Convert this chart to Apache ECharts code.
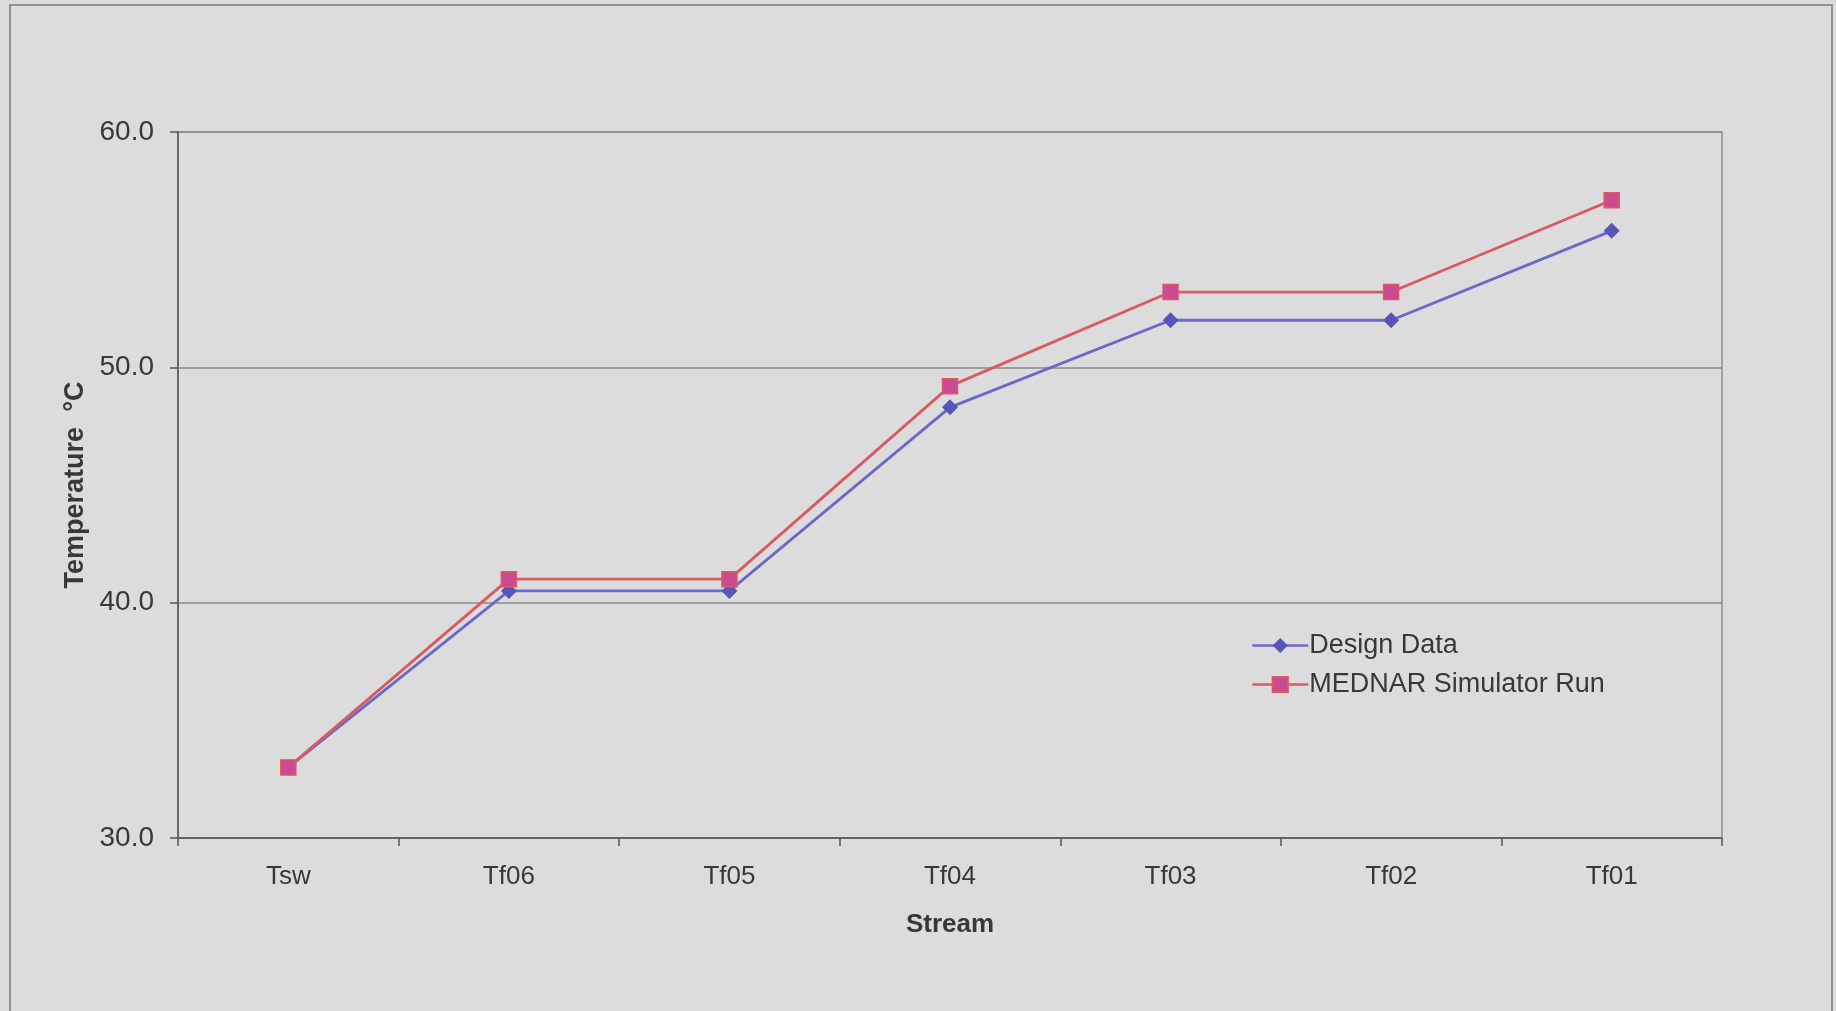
<!DOCTYPE html>
<html>
<head>
<meta charset="utf-8">
<title>Stream temperatures</title>
<script src="https://cdn.jsdelivr.net/npm/echarts@6/dist/echarts.min.js"></script>
<style>
  html, body { margin: 0; padding: 0; background: #dcdcdc; }
  #chart { width: 1836px; height: 1011px; }
</style>
</head>
<body>
<div id="chart"></div>
<script>
// Stream positions along the plant, cold end first
const streams = ['Tsw', 'Tf06', 'Tf05', 'Tf04', 'Tf03', 'Tf02', 'Tf01'];

// Temperatures, °C
const designData = [33.0, 40.5, 40.5, 48.3, 52.0, 52.0, 55.8];
const simulatorRun = [33.0, 41.0, 41.0, 49.2, 53.2, 53.2, 57.1];

// Value axis range and step
const yMin = 30;
const yMax = 60;
const yStep = 10;

const textColor = '#383838';
const fontFamily = '"Liberation Sans", Arial, sans-serif';

const chart = echarts.init(document.getElementById('chart'), null, { renderer: 'canvas' });

chart.setOption({
  backgroundColor: '#dcdcdc',
  animation: false,
  textStyle: { fontFamily: fontFamily, color: textColor },
  graphic: [
    {
      type: 'rect',
      shape: { x: 10, y: 5, width: 1822, height: 1100 },
      style: { fill: 'none', stroke: '#7a7a7a', lineWidth: 1.5 },
      silent: true
    }
  ],
  grid: {
    left: 178,
    right: 114,
    top: 132,
    bottom: 173,
    show: true,
    backgroundColor: 'transparent',
    borderColor: '#8a8a8a',
    borderWidth: 1.5
  },
  legend: {
    orient: 'vertical',
    left: 1246,
    top: 627,
    itemWidth: 56,
    itemHeight: 19,
    itemGap: 12,
    lineStyle: { width: 2.5 },
    textStyle: { fontSize: 27, color: textColor, fontFamily: fontFamily, padding: [0, 0, 0, -4] },
    data: ['Design Data', 'MEDNAR Simulator Run']
  },
  xAxis: {
    type: 'category',
    data: streams,
    boundaryGap: true,
    name: 'Stream',
    nameLocation: 'middle',
    nameGap: 74,
    nameTextStyle: { fontSize: 26, fontWeight: 'bold', color: textColor },
    axisLine: { show: true, lineStyle: { color: '#555', width: 1.5 } },
    axisTick: { show: true, length: 8, alignWithLabel: false, lineStyle: { color: '#555', width: 1.5 } },
    axisLabel: { fontSize: 26, color: textColor, margin: 26 },
    splitLine: { show: false }
  },
  yAxis: {
    type: 'value',
    min: yMin,
    max: yMax,
    interval: yStep,
    name: 'Temperature  °C',
    nameLocation: 'middle',
    nameGap: 88,
    nameTextStyle: { fontSize: 27, fontWeight: 'bold', color: textColor },
    axisLine: { show: true, lineStyle: { color: '#555', width: 1.5 } },
    axisTick: { show: true, inside: false, length: 8, lineStyle: { color: '#555', width: 1.5 } },
    axisLabel: {
      fontSize: 28,
      color: textColor,
      margin: 24,
      formatter: function (v) { return v.toFixed(1); }
    },
    splitLine: { show: true, lineStyle: { color: '#8a8a8a', width: 1.5 } }
  },
  series: [
    {
      name: 'Design Data',
      type: 'line',
      data: designData,
      symbol: 'diamond',
      symbolSize: 16,
      lineStyle: { color: '#6a68c8', width: 2.8 },
      itemStyle: { color: '#5656b8', borderWidth: 0 },
      z: 3
    },
    {
      name: 'MEDNAR Simulator Run',
      type: 'line',
      data: simulatorRun,
      symbol: 'rect',
      symbolSize: 15,
      lineStyle: { color: '#d85a62', width: 2.8 },
      itemStyle: { color: '#cc4a92', borderColor: '#d85a62', borderWidth: 1.5 },
      z: 4
    }
  ]
});
</script>
</body>
</html>
